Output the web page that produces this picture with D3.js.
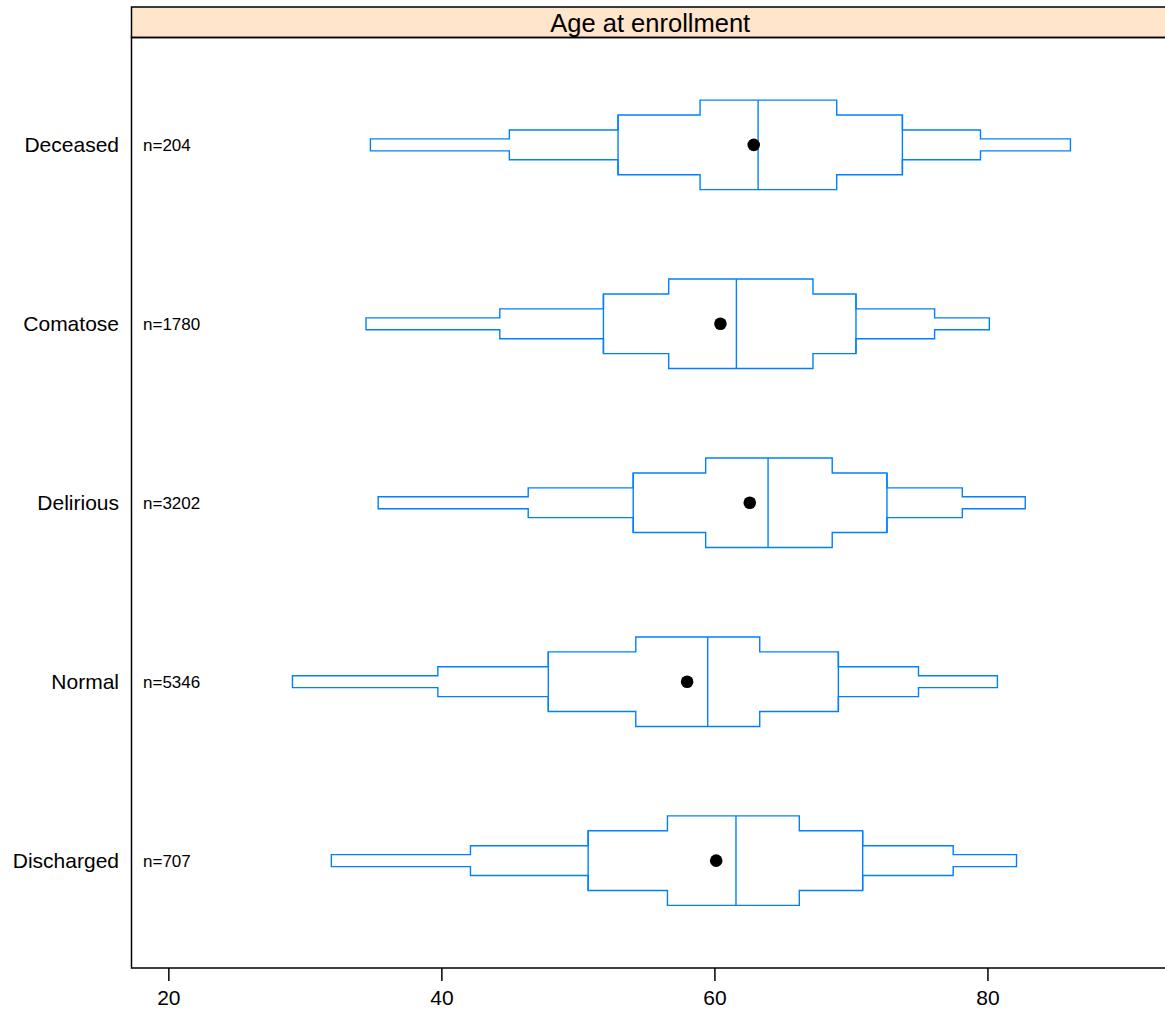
<!DOCTYPE html>
<html>
<head>
<meta charset="utf-8">
<script src="https://cdn.jsdelivr.net/npm/d3@7"></script>
<style>
  html, body { margin: 0; padding: 0; background: #fff; }
  svg { display: block; font-family: "Liberation Sans", Arial, Helvetica, sans-serif; }
</style>
</head>
<body>
<svg id="chart" width="1165" height="1017"></svg>
<script>
// ---- data ----
const categories = ["Discharged", "Normal", "Delirious", "Comatose", "Deceased"];
const counts     = [707, 5346, 3202, 1780, 204];
const q05   = [31.94, 29.09, 35.37, 34.48, 34.80];
const q125  = [42.13, 39.74, 46.36, 44.28, 44.98];
const q25   = [50.75, 47.83, 54.05, 51.87, 52.94];
const q375  = [56.56, 54.24, 59.36, 56.65, 58.95];
const median= [61.58, 59.51, 63.93, 61.61, 63.20];
const q625  = [66.22, 63.32, 68.63, 67.22, 68.96];
const q75   = [70.86, 69.08, 72.64, 70.37, 73.77];
const q875  = [77.49, 74.95, 78.16, 76.13, 79.49];
const q95   = [82.13, 80.73, 82.77, 80.14, 86.08];
const means = [60.13, 58.00, 62.59, 60.44, 62.88];
const probs = [0.05, 0.125, 0.25, 0.375];
const xTicks = [20, 40, 60, 80];
const stripTitle = "Age at enrollment";

// ---- layout ----
const svg = d3.select("#chart");
const panelLeft = 131.5, panelRight = 1169, panelTop = 37.5, panelBottom = 968, stripTop = 7;
const blue = "#0080ff";

const x = d3.scaleLinear().domain([17.3, 93.3]).range([panelLeft, panelRight]);
const y = d3.scaleLinear().domain([0.4, categories.length + 0.6]).range([panelBottom, panelTop]);
const h = d3.scaleLinear().domain([0, 1]).range([0, (y(0) - y(1)) * 2 / 3]);

// strip
svg.append("rect")
  .attr("x", panelLeft).attr("y", stripTop)
  .attr("width", panelRight - panelLeft).attr("height", panelTop - stripTop)
  .attr("fill", "#ffe5cc").attr("stroke", "#000").attr("stroke-width", 1.5);
svg.append("text")
  .attr("x", (panelLeft + panelRight) / 2).attr("y", (stripTop + panelTop) / 2 + 0.5)
  .attr("dy", "0.35em").attr("text-anchor", "middle")
  .attr("font-size", 25.5).attr("fill", "#000").text(stripTitle);

// panel border
svg.append("rect")
  .attr("x", panelLeft).attr("y", panelTop)
  .attr("width", panelRight - panelLeft).attr("height", panelBottom - panelTop)
  .attr("fill", "none").attr("stroke", "#000").attr("stroke-width", 1.5);

// x axis
const xAxis = d3.axisBottom(x).tickValues(xTicks).tickSize(13).tickPadding(9).tickFormat(d3.format("d"));
const gx = svg.append("g").attr("transform", `translate(0,${panelBottom})`).call(xAxis);
gx.select(".domain").remove();
gx.selectAll(".tick line").attr("stroke", "#000").attr("stroke-width", 1.5);
gx.selectAll(".tick text").attr("font-size", 21).attr("fill", "#000")
  .attr("font-family", "Liberation Sans, Arial, sans-serif");

// y labels
categories.forEach((c, i) => {
  const cy = y(i + 1);
  svg.append("text").attr("x", 119).attr("y", cy).attr("dy", "0.35em")
    .attr("text-anchor", "end").attr("font-size", 21).attr("fill", "#000").text(c);
  svg.append("text").attr("x", 143).attr("y", cy).attr("dy", "0.35em")
    .attr("text-anchor", "start").attr("font-size", 17).attr("fill", "#000").text("n=" + counts[i]);
});

// box-percentile shapes
const line = d3.line();
categories.forEach((c, i) => {
  const cy = y(i + 1);
  const L = [q05[i], q125[i], q25[i], q375[i]];
  const R = [q95[i], q875[i], q75[i], q625[i]];
  const hs = probs.map(p => h(p));
  const top = [];
  for (let k = 0; k < 4; k++) {
    top.push([x(L[k]), cy - hs[k]]);
    if (k < 3) top.push([x(L[k + 1]), cy - hs[k]]);
  }
  top.push([x(R[3]), cy - hs[3]]);
  for (let k = 3; k >= 0; k--) {
    if (k < 3) top.push([x(R[k + 1]), cy - hs[k]]);
    top.push([x(R[k]), cy - hs[k]]);
  }
  const bottom = top.slice().reverse().map(([px, py]) => [px, 2 * cy - py]);
  const pts = top.concat(bottom);
  svg.append("path").attr("d", line(pts) + "Z")
    .attr("fill", "none").attr("stroke", blue).attr("stroke-width", 1.4);
  // quartile box sides
  [q25[i], q75[i]].forEach(v => {
    svg.append("line").attr("x1", x(v)).attr("x2", x(v))
      .attr("y1", cy - hs[2]).attr("y2", cy + hs[2])
      .attr("stroke", blue).attr("stroke-width", 1.4);
  });
  // median
  svg.append("line").attr("x1", x(median[i])).attr("x2", x(median[i]))
    .attr("y1", cy - hs[3]).attr("y2", cy + hs[3])
    .attr("stroke", blue).attr("stroke-width", 1.4);
  // mean
  svg.append("circle").attr("cx", x(means[i])).attr("cy", cy).attr("r", 6.3).attr("fill", "#000");
});
</script>
</body>
</html>
